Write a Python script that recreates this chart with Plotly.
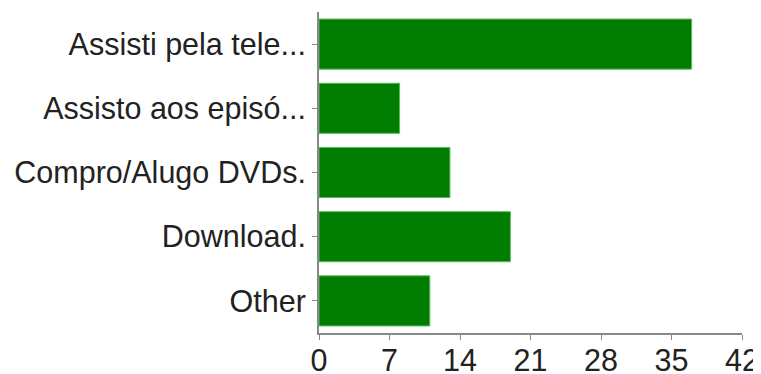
import plotly.graph_objects as go

categories = ["Assisti pela tele...", "Assisto aos episó...", "Compro/Alugo DVDs.", "Download.", "Other"]
values = [37, 8, 13, 19, 11]
x_ticks = [0, 7, 14, 21, 28, 35, 42]

fig = go.Figure(go.Bar(
    x=values,
    y=categories,
    orientation="h",
    marker=dict(color="#007c00", line=dict(color="#5cb85c", width=1)),
))

# page body has an 8px default margin, so the figure is sized to fit the 761x374 window
fig.update_layout(
    width=753, height=366,
    margin=dict(l=311, r=19, t=4, b=41),
    plot_bgcolor="white", paper_bgcolor="white",
    bargap=0.22,
    showlegend=False,
    font=dict(family="Liberation Sans, Arial, sans-serif", size=30.5, color="#222222"),
)
fig.update_xaxes(
    range=[0, 42], tickvals=x_ticks, ticktext=[str(t) for t in x_ticks],
    showgrid=False, zeroline=False, automargin=False,
    showline=True, linecolor="#888888", linewidth=2,
    ticks="outside", ticklen=5, tickcolor="#888888", tickwidth=1,
    ticklabelstandoff=-6,
)
fig.update_yaxes(
    autorange="reversed", categoryorder="array", categoryarray=categories,
    showgrid=False, zeroline=False, automargin=False,
    showline=True, linecolor="#888888", linewidth=2,
    ticks="outside", ticklen=5, tickcolor="#888888", tickwidth=1,
)

fig.write_html("out.html")
